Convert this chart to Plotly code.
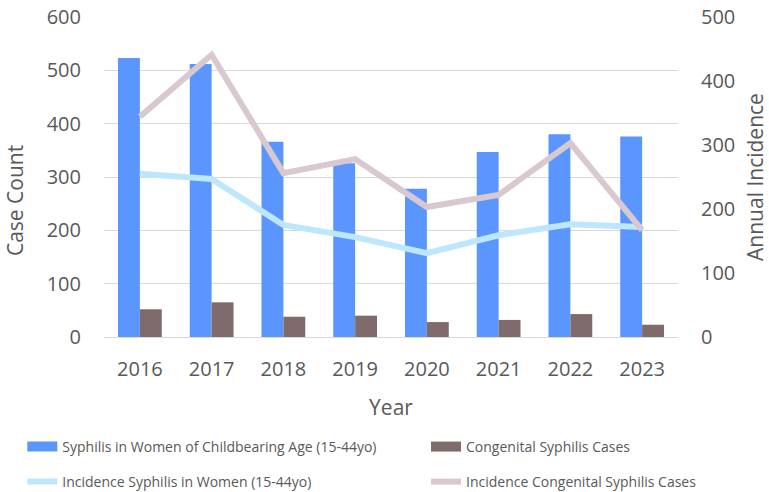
import plotly.graph_objects as graph

years = ['2016', '2017', '2018', '2019', '2020', '2021', '2022', '2023']

# case counts (left axis)
women_cases = [523, 512, 366, 326, 278, 347, 380, 376]
congenital_cases = [52, 65, 38, 40, 28, 32, 43, 23]

# annual incidence (right axis)
women_incidence = [255, 247, 175, 156, 131, 159, 176, 172]
congenital_incidence = [344, 441, 256, 278, 203, 222, 303, 167]

grey = '#595959'
blue, brown, light, pink = '#5B96FF', '#7F6B6B', '#BDE7FF', '#D9C8D0'

fig = graph.Figure()
fig.add_trace(graph.Bar(x=years, y=women_cases, marker=dict(color=blue, line=dict(width=0)), showlegend=False))
fig.add_trace(graph.Bar(x=years, y=congenital_cases, marker=dict(color=brown, line=dict(width=0)), showlegend=False))
fig.add_trace(graph.Scatter(x=years, y=women_incidence, mode='lines', line=dict(color=light, width=6),
                            yaxis='y2', showlegend=False))
fig.add_trace(graph.Scatter(x=years, y=congenital_incidence, mode='lines', line=dict(color=pink, width=6),
                            yaxis='y2', showlegend=False))

# legend entries, one small legend each so they sit in a 2x2 grid like the original
fig.add_trace(graph.Scatter(x=[None], y=[None], mode='lines', line=dict(color=blue, width=10),
                            name='Syphilis in Women of Childbearing Age (15-44yo)', legend='legend'))
fig.add_trace(graph.Scatter(x=[None], y=[None], mode='lines', line=dict(color=brown, width=10),
                            name='Congenital Syphilis Cases', legend='legend2'))
fig.add_trace(graph.Scatter(x=[None], y=[None], mode='lines', line=dict(color=light, width=6),
                            name='Incidence Syphilis in Women (15-44yo)', legend='legend3'))
fig.add_trace(graph.Scatter(x=[None], y=[None], mode='lines', line=dict(color=pink, width=6),
                            name='Incidence Congenital Syphilis Cases', legend='legend4'))

leg = dict(orientation='h', xref='container', yref='container', xanchor='left', yanchor='middle',
           itemwidth=30, font=dict(size=14, color=grey, family='Open Sans'), bgcolor='rgba(0,0,0,0)')

fig.update_layout(
    width=769, height=492,
    margin=dict(l=104, r=91, t=17, b=155),
    plot_bgcolor='white', paper_bgcolor='white',
    font=dict(family='Open Sans', color=grey),
    barmode='group', bargap=0.39, bargroupgap=0,
    xaxis=dict(title=dict(text='Year', font=dict(size=21, color=grey), standoff=19),
               tickfont=dict(size=20, color=grey), showgrid=False, automargin=False,
               showline=True, linecolor='#D9D9D9', linewidth=1, ticks='', ticklabelstandoff=14),
    yaxis=dict(range=[0, 600], dtick=100, tickfont=dict(size=20, color=grey), automargin=False,
               gridcolor='#D9D9D9', gridwidth=1, zeroline=False, ticklabelstandoff=22),
    yaxis2=dict(title=dict(text='Annual Incidence', font=dict(size=21, color=grey), standoff=20),
                range=[0, 500], dtick=100, tickfont=dict(size=20, color=grey), automargin=False,
                overlaying='y', side='right', showgrid=False, zeroline=False, ticklabelstandoff=22),
    legend=dict(leg, x=0.029, y=0.0915),
    legend2=dict(leg, x=0.554, y=0.0915),
    legend3=dict(leg, x=0.029, y=0.0203),
    legend4=dict(leg, x=0.554, y=0.0203),
)

# left axis title sits a bit below the middle in the original
fig.add_annotation(text='Case Count', textangle=-90, xref='paper', yref='paper',
                   x=-0.155, y=0.425, xanchor='center', yanchor='middle', showarrow=False,
                   font=dict(size=21, color=grey, family='Open Sans'))

fig.write_html('out.html', config={'displayModeBar': False},
               post_script="document.body.style.margin='0';")
